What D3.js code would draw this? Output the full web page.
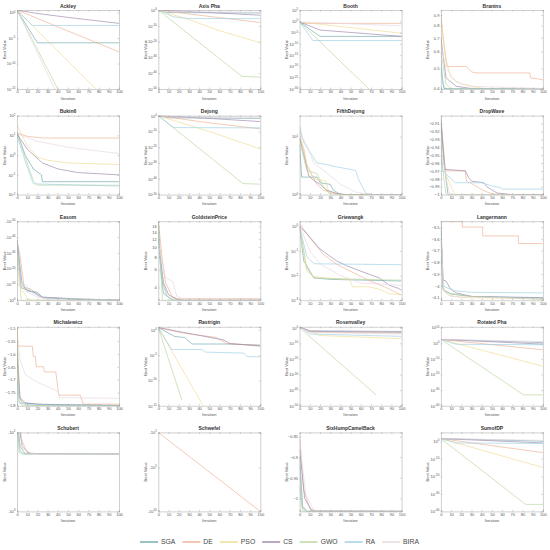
<!DOCTYPE html>
<html><head><meta charset="utf-8">
<script src="https://cdn.jsdelivr.net/npm/d3@7"></script>
<style>body{margin:0;background:#fff}svg{display:block}</style>
</head><body>
<svg id="c" width="550" height="550"></svg>
<script>
const algorithms = ["SGA","DE","PSO","CS","GWO","RA","BIRA"];
const colors = ["#6ea8ad","#eeae92","#efdc90","#9a85ac","#b8d69b","#9bcfe2","#e6d6e0"];
const iterationTicks = [0,10,20,30,40,50,60,70,80,90,100];

const ackley = {
  SGA:[[0,3.3],[20,1.2e-6],[100,1.2e-6]],
  DE:[[0,3.3],[50,2.5e-4],[100,2e-8]],
  PSO:[[0,3.3],[80,3e-16]],
  CS:[[0,3.3],[10,1.5],[20,0.7],[50,0.12],[100,0.008]],
  GWO:[[0,3.3],[40,1e-15],[42,2e-16]],
  RA:[[0,3.3],[15,3e-3],[100,3e-3]],
  BIRA:[[0,3.3],[37,1e-15],[39,2e-16]]
};
const axisPha = {
  SGA:[[0,1],[8,0.03],[100,0.015]],
  DE:[[0,1],[50,1e-4],[100,1.5e-8]],
  PSO:[[0,1],[30,1e-6],[60,1e-13],[100,2e-21]],
  CS:[[0,1],[50,0.03],[100,6e-4]],
  GWO:[[0,1],[82,1e-42],[100,3e-43]],
  RA:[[0,1],[15,5e-5],[30,5e-6],[100,4e-6]],
  BIRA:[[0,1],[10,0.1],[100,0.05]]
};
const booth = {
  SGA:[[0,0.5],[20,2e-7],[100,2e-7]],
  DE:[[0,0.5],[2,0.12],[100,0.12]],
  PSO:[[0,0.5],[100,5e-6]],
  CS:[[0,0.5],[20,1.3e-4],[100,2e-7]],
  GWO:[[0,0.5],[68,1e-30],[75,1e-33]],
  RA:[[0,0.5],[13,3e-9],[100,3e-9]],
  BIRA:[[0,0.5],[100,1e-2]]
};
const branins = {
  SGA:[[0,0.5],[3,0.4],[100,0.398]],
  DE:[[0,0.9],[3,0.65],[6,0.51],[25,0.51],[30,0.48],[35,0.475],[87,0.475],[88,0.45],[95,0.445],[100,0.44]],
  PSO:[[0,0.85],[5,0.55],[10,0.45],[20,0.42],[40,0.4],[100,0.398]],
  CS:[[0,0.7],[5,0.45],[15,0.41],[30,0.4],[100,0.398]],
  GWO:[[0,0.6],[5,0.42],[10,0.4],[100,0.398]],
  RA:[[0,0.55],[2,0.42],[5,0.398],[100,0.398]],
  BIRA:[[0,0.65],[5,0.5],[15,0.43],[30,0.41],[100,0.4]]
};
const bukin6 = {
  SGA:[[0,15],[8,1],[16,0.2],[24,0.1],[25,0.045],[100,0.045]],
  DE:[[0,13],[10,9],[26,7.3],[100,7.3]],
  PSO:[[0,34],[10,3],[20,0.8],[30,0.55],[50,0.4],[100,0.33]],
  CS:[[0,12],[10,2],[25,0.4],[40,0.2],[60,0.13],[100,0.1]],
  GWO:[[0,12],[8,0.8],[16,0.05],[20,0.03],[100,0.03]],
  RA:[[0,10],[8,0.5],[16,0.035],[100,0.027]],
  BIRA:[[0,12],[20,5],[50,2.5],[100,1.2]]
};
const dejong = {
  SGA:[[0,1],[10,0.05],[100,0.02]],
  DE:[[0,1],[50,3e-5],[100,5e-9]],
  PSO:[[0,1],[50,1e-10],[100,1e-21]],
  CS:[[0,1],[50,0.02],[100,2e-4]],
  GWO:[[0,1],[83,1e-43],[100,4e-44]],
  RA:[[0,1],[15,3e-8],[100,2e-8]],
  BIRA:[[0,1],[10,0.2],[100,0.1]]
};
const fifthDejong = {
  SGA:[[0,7.2],[2,2.0],[17,2.0],[20,1.6],[30,1.5],[33,1.2],[40,1.0],[100,0.999]],
  DE:[[0,9.4],[4,6.2],[7,3.3],[12,2.2],[17,1.5],[23,1.2],[33,1.05],[39,1.0],[100,0.999]],
  PSO:[[0,13],[7,3.3],[13,1.9],[26,1.7],[28,1.15],[41,1.0],[100,0.999]],
  CS:[[0,9.4],[4,4.9],[9,2.1],[13,1.8],[20,1.5],[26,1.2],[36,1.05],[45,1.0],[100,0.999]],
  GWO:[[0,8.5],[7,2.6],[17,2.3],[23,1.4],[29,1.05],[32,1.0],[100,0.999]],
  RA:[[0,15],[4,8],[10,5.5],[17,3.5],[30,3.2],[36,3.0],[46,2.8],[55,2.6],[58,1.8],[65,1.05],[72,1.0],[100,0.999]],
  BIRA:[[0,12],[7,7],[14,3.5],[25,2.5],[40,1.5],[55,1.1],[70,1.0],[100,0.999]]
};
const dropWave = {
  SGA:[[0,-0.905],[3,-0.96],[7,-1],[100,-1]],
  DE:[[0,-0.901],[4,-0.965],[5,-0.97],[24,-0.97],[25,-0.983],[30,-0.986],[42,-0.995],[50,-0.999],[60,-1],[100,-1]],
  PSO:[[0,-0.92],[5,-0.975],[10,-0.99],[14,-1],[100,-1]],
  CS:[[0,-0.91],[4,-0.968],[24,-0.97],[27,-0.978],[30,-0.983],[42,-0.985],[45,-0.99],[55,-0.998],[70,-1],[100,-1]],
  GWO:[[0,-0.95],[5,-1],[100,-1]],
  RA:[[0,-0.93],[2,-0.97],[14,-0.985],[40,-0.985],[45,-0.987],[50,-0.989],[58,-0.991],[60,-0.993],[100,-0.993]],
  BIRA:[[0,-0.94],[6,-0.985],[9,-1],[100,-1]]
};
const easom = {
  SGA:[[0,-1e-38],[4,-1e-8],[12,-1e-6],[20,-1e-5],[25,-0.02],[50,-0.2],[90,-0.9],[100,-1]],
  DE:[[0,-1e-38],[3,-1e-28],[7,-1e-8],[14,-1e-7],[20,-1e-3],[25,-0.02],[45,-0.05],[100,-0.98]],
  PSO:[[0,-1e-30],[2,-1e-10],[10,-0.1],[15,-1],[100,-1]],
  CS:[[0,-1e-38],[5,-1e-10],[10,-1e-6],[17,-1e-5],[25,-0.01],[60,-0.3],[100,-1]],
  GWO:[[0,-1e-38],[4,-1],[100,-1]],
  RA:[[0,-1e-38],[4,-1e-12],[15,-1e-5],[25,-0.03],[100,-1]],
  BIRA:[[0,-1e-24],[3,-1e-12],[8,-1e-6],[14,-1e-4],[20,-0.01],[30,-0.2],[40,-1],[100,-1]]
};
const goldsteinPrice = {
  SGA:[[0,18],[2,7],[5,3.5],[14,3.0],[100,3.0]],
  DE:[[0,18],[4,7.5],[7,4.5],[14,3.2],[20,3.1],[100,3.1]],
  PSO:[[0,16],[3,6],[6,4],[10,3.2],[20,3.0],[100,3.0]],
  CS:[[0,12],[5,4.5],[10,3.4],[20,3.0],[100,3.0]],
  GWO:[[0,18],[4,3.0],[100,3.0]],
  RA:[[0,14],[3,5],[8,3.3],[15,3.0],[100,3.0]],
  BIRA:[[0,11],[7,5],[14,4.6],[18,3.3],[25,3.05],[100,3.05]]
};
const griewangk = {
  SGA:[[0,1],[4,0.04],[14,0.008],[30,0.007],[100,0.006]],
  DE:[[0,1.3],[10,0.34],[23,0.074],[36,0.029],[55,0.0117],[68,0.0063],[84,0.0034],[94,0.0021],[100,0.0016]],
  PSO:[[0,0.9],[7,0.015],[14,0.009],[26,0.008],[49,0.007],[52,0.0035],[68,0.0035],[78,0.0028],[88,0.0018],[100,0.0017]],
  CS:[[0,1],[7,0.5],[20,0.12],[36,0.04],[46,0.025],[60,0.015],[78,0.008],[88,0.004],[97,0.003],[100,0.0025]],
  GWO:[[0,1],[7,0.02],[14,0.008],[30,0.0075],[60,0.007],[100,0.0065]],
  RA:[[0,1],[7,0.06],[14,0.03],[100,0.0275]],
  BIRA:[[0,1.1],[10,0.1],[20,0.03],[40,0.01],[60,0.005],[100,0.004]]
};
const langermann = {
  SGA:[[0,-3.6],[2,-4.03],[10,-4.07],[30,-4.09],[100,-4.1]],
  DE:[[0,-3.452],[21,-3.452],[21,-3.5],[41,-3.5],[41,-3.575],[76,-3.575],[76,-3.64],[100,-3.64]],
  PSO:[[0,-3.55],[3,-4.04],[8,-4.08],[20,-4.1],[100,-4.11]],
  CS:[[0,-3.46],[2,-3.95],[5,-3.96],[9,-4.02],[15,-4.06],[30,-4.09],[100,-4.105]],
  GWO:[[0,-3.5],[2,-4.03],[6,-4.06],[30,-4.09],[100,-4.115]],
  RA:[[0,-3.5],[2,-4.0],[12,-4.04],[30,-4.055],[100,-4.06]],
  BIRA:[[0,-3.6],[3,-4.05],[10,-4.09],[100,-4.11]]
};
const michalewicz = {
  SGA:[[0,-1.55],[2,-1.76],[5,-1.79],[20,-1.795],[100,-1.801]],
  DE:[[0,-1.5],[1,-1.57],[15,-1.57],[16,-1.61],[18,-1.61],[19,-1.65],[26,-1.65],[27,-1.67],[38,-1.67],[41,-1.76],[62,-1.76],[65,-1.795],[100,-1.795]],
  PSO:[[0,-1.5],[1,-1.6],[3,-1.78],[10,-1.8],[100,-1.801]],
  CS:[[0,-1.6],[3,-1.77],[8,-1.79],[20,-1.795],[30,-1.797],[100,-1.8]],
  GWO:[[0,-1.55],[2,-1.78],[5,-1.8],[100,-1.801]],
  RA:[[0,-1.7],[2,-1.79],[10,-1.797],[60,-1.8],[100,-1.8]],
  BIRA:[[0,-1.53],[3,-1.62],[8,-1.68],[20,-1.71],[40,-1.745],[42,-1.77],[100,-1.772]]
};
const rastrigin = {
  SGA:[[0,2.8],[16,0.05],[26,0.03],[33,1.6e-3],[67,1.6e-3],[100,1e-3]],
  DE:[[0,2.8],[23,0.25],[57,0.03],[67,2e-3],[100,8e-4]],
  PSO:[[0,2.8],[44,1e-15]],
  CS:[[0,2.8],[64,0.01],[70,2e-3],[100,6e-4]],
  GWO:[[0,2.8],[23,1.5e-14]],
  RA:[[0,2.8],[13,1.3e-4],[43,1.3e-4],[46,4e-5],[84,2.5e-5],[87,5e-6],[100,5e-6]],
  BIRA:[]
};
const rosenvalley = {
  SGA:[[0,3],[10,5e-3],[100,1e-3]],
  DE:[[0,3],[10,2e-3],[100,3e-4]],
  PSO:[[0,3],[20,1e-5],[100,1e-7]],
  CS:[[0,3],[10,1e-2],[100,4e-3]],
  GWO:[[0,1],[75,1e-43]],
  RA:[[0,3],[10,1e-4],[100,3e-6]],
  BIRA:[[0,3],[10,1e-3],[100,1e-4]]
};
const rotatedPha = {
  SGA:[[0,250],[100,2.5]],
  DE:[[0,250],[100,6e-5]],
  PSO:[[0,250],[100,2e-15]],
  CS:[[0,250],[100,0.25]],
  GWO:[[0,250],[81,1e-33],[100,1e-33]],
  RA:[[0,250],[15,0.2],[100,0.1]],
  BIRA:[[0,250],[100,10]]
};
const schubert = {
  SGA:[[0,-60],[3,-150],[8,-186],[100,-186.7]],
  DE:[[0,-40],[4,-120],[10,-180],[20,-186.7],[100,-186.7]],
  PSO:[[0,-80],[3,-170],[6,-186.7],[100,-186.7]],
  CS:[[0,-50],[5,-150],[12,-185],[100,-186.7]],
  GWO:[[0,-70],[2,-180],[5,-186.7],[100,-186.7]],
  RA:[[0,-90],[3,-175],[7,-186.7],[100,-186.7]],
  BIRA:[[0,-45],[6,-160],[15,-186.7],[100,-186.7]]
};
const schwefel = {
  SGA:[],
  DE:[[0,-1e1],[100,-1e10]],
  PSO:[],
  CS:[],
  GWO:[],
  RA:[],
  BIRA:[]
};
const sixHump = {
  SGA:[[0,-0.9],[3,-1.02],[8,-1.0316],[100,-1.0316]],
  DE:[[0,-0.85],[4,-0.98],[10,-1.025],[18,-1.0316],[100,-1.0316]],
  PSO:[[0,-0.95],[2,-1.02],[6,-1.0316],[100,-1.0316]],
  CS:[[0,-0.88],[5,-1.0],[12,-1.03],[100,-1.0316]],
  GWO:[[0,-0.97],[3,-1.0316],[100,-1.0316]],
  RA:[[0,-0.92],[3,-1.025],[7,-1.0316],[100,-1.0316]],
  BIRA:[[0,-0.86],[6,-0.99],[14,-1.03],[100,-1.0316]]
};
const sumofDP = {
  SGA:[[0,30],[100,1]],
  DE:[[0,30],[100,3e-7]],
  PSO:[[0,30],[100,1e-15]],
  CS:[[0,30],[100,0.1]],
  GWO:[[0,30],[83,1e-36],[100,1e-36]],
  RA:[[0,30],[15,0.1],[100,0.05]],
  BIRA:[[0,30],[100,3]]
};

const panels = [
  {title:"Ackley", data:ackley, scale:"log", domain:[1e-15,3.4], ticks:[1,1e-5,1e-10,1e-15], fmt:"pow"},
  {title:"Axis Pha", data:axisPha, scale:"log", domain:[1e-50,1.2], ticks:[1,1e-10,1e-20,1e-30,1e-40,1e-50], fmt:"pow"},
  {title:"Booth", data:booth, scale:"log", domain:[1e-30,1e5], ticks:[1e5,1,1e-5,1e-10,1e-15,1e-20,1e-25,1e-30], fmt:"pow"},
  {title:"Branins", data:branins, scale:"log", domain:[0.3979,0.95], ticks:[0.4,0.5,0.6,0.7,0.8,0.9], fmt:"num"},
  {title:"Bukin6", data:bukin6, scale:"log", domain:[1e-2,1e2], ticks:[1e2,1e1,1,1e-1,1e-2], fmt:"pow"},
  {title:"Dejong", data:dejong, scale:"log", domain:[1e-50,1.2], ticks:[1,1e-10,1e-20,1e-30,1e-40,1e-50], fmt:"pow"},
  {title:"FifthDejong", data:fifthDejong, scale:"log", domain:[0.998,23], ticks:[1,10], fmt:"pow"},
  {title:"DropWave", data:dropWave, scale:"linear", domain:[-1,-0.9], ticks:[-0.91,-0.92,-0.93,-0.94,-0.95,-0.96,-0.97,-0.98,-0.99,-1], fmt:"num"},
  {title:"Easom", data:easom, scale:"neglog", domain:[1e-50,1], ticks:[-1e-50,-1e-40,-1e-30,-1e-20,-1e-10,-1], fmt:"negpow"},
  {title:"GoldsteinPrice", data:goldsteinPrice, scale:"log", domain:[3,18], ticks:[4,6,8,10,12,14,16], fmt:"num"},
  {title:"Griewangk", data:griewangk, scale:"log", domain:[1e-3,1.6], ticks:[1,1e-1,1e-2,1e-3], fmt:"pow"},
  {title:"Langermann", data:langermann, scale:"linear", domain:[-4.122,-3.45], ticks:[-3.5,-3.6,-3.7,-3.8,-3.9,-4,-4.1], fmt:"num"},
  {title:"Michalewicz", data:michalewicz, scale:"linear", domain:[-1.8013,-1.495], ticks:[-1.5,-1.55,-1.6,-1.65,-1.7,-1.75,-1.8], fmt:"num"},
  {title:"Rastrigin", data:rastrigin, scale:"log", domain:[1e-15,4], ticks:[1,1e-5,1e-10,1e-15], fmt:"pow"},
  {title:"Rosenvalley", data:rosenvalley, scale:"log", domain:[1e-50,4], ticks:[1,1e-10,1e-20,1e-30,1e-40,1e-50], fmt:"pow"},
  {title:"Rotated Pha", data:rotatedPha, scale:"log", domain:[1e-40,3e10], ticks:[1e10,1,1e-10,1e-20,1e-30,1e-40], fmt:"pow"},
  {title:"Schubert", data:schubert, scale:"neglog", domain:[100,1000], ticks:[-100,-1000], fmt:"negpow"},
  {title:"Schwefel", data:schwefel, scale:"neglog", domain:[10,1e10], ticks:[-10,-1e5,-1e10], fmt:"negpow"},
  {title:"SixHumpCamelBack", data:sixHump, scale:"linear", domain:[-1.0316,-0.84], ticks:[-0.85,-0.9,-0.95,-1], fmt:"num"},
  {title:"SumofDP", data:sumofDP, scale:"log", domain:[1e-40,1e5], ticks:[1,1e-10,1e-20,1e-30,1e-40], fmt:"pow"}
];

const svg = d3.select("#c");
const W = 102, H = 79;
const axisColor = "#a0a0a0";
const font = "'Liberation Sans', Arial, sans-serif";

function labelTick(sel, d, fmt) {
  sel.text(null);
  if (fmt === "num") { sel.text(d3.format("~g")(d)); return; }
  const k = Math.round(Math.log10(Math.abs(d)));
  sel.append("tspan").text((fmt === "negpow" ? "-" : "") + "10");
  sel.append("tspan").attr("dy", -1.8).attr("font-size", 3).text(k);
}

panels.forEach((p, i) => {
  const c = i % 4, r = Math.floor(i / 4);
  const x0 = 17 + c * 141.3, y0 = 10 + r * 105.6;
  const g = svg.append("g").attr("transform", `translate(${x0},${y0})`);
  const x = d3.scaleLinear().domain([0, 100]).range([0, W]);
  let y;
  if (p.scale === "log") y = d3.scaleLog().domain(p.domain).range([H, 0]);
  else if (p.scale === "neglog") y = d3.scaleLog().domain(p.domain).range([0, H]);
  else y = d3.scaleLinear().domain(p.domain).range([H, 0]);
  const yv = p.scale === "neglog" ? v => y(-v) : v => y(v);

  g.append("rect").attr("width", W).attr("height", H).attr("fill", "#fff");
  const cid = "clip" + i;
  g.append("clipPath").attr("id", cid).append("rect").attr("width", W).attr("height", H);
  const lines = g.append("g").attr("clip-path", `url(#${cid})`);
  const line = d3.line().x(d => x(d[0])).y(d => yv(d[1]));
  algorithms.forEach((a, k) => {
    const pts = p.data[a];
    if (!pts || !pts.length) return;
    lines.append("path").attr("d", line(pts)).attr("fill", "none")
      .attr("stroke", colors[k]).attr("stroke-width", 0.65);
  });

  const xa = g.append("g").attr("transform", `translate(0,${H})`)
    .call(d3.axisBottom(x).tickValues(iterationTicks).tickSize(-1.5).tickPadding(1.5));
  const xt = g.append("g").call(d3.axisTop(x).tickValues(iterationTicks).tickSize(-1.5).tickFormat(""));
  const yTickVals = p.ticks.map(t => p.scale === "neglog" ? -t : t);
  const ya = g.append("g").call(d3.axisLeft(y).tickValues(yTickVals).tickSize(-1.5).tickPadding(1.5));
  ya.selectAll(".tick text").each(function(d) {
    labelTick(d3.select(this), p.scale === "neglog" ? -d : d, p.fmt);
  });
  const yr = g.append("g").attr("transform", `translate(${W},0)`)
    .call(d3.axisRight(y).tickValues(yTickVals).tickSize(-1.5).tickFormat(""));
  [xa, xt, ya, yr].forEach(a => {
    a.selectAll("path.domain").attr("stroke", axisColor).attr("stroke-width", 0.5);
    a.selectAll(".tick line").attr("stroke", axisColor).attr("stroke-width", 0.5);
    a.selectAll("text").attr("font-size", 4).attr("font-family", font).attr("fill", "#555");
  });

  g.append("text").attr("x", W / 2).attr("y", -2.5).attr("text-anchor", "middle")
    .attr("font-family", font).attr("font-size", 5).attr("font-weight", "bold").attr("fill", "#333")
    .text(p.title);
  g.append("text").attr("x", W / 2).attr("y", H + 10.5).attr("text-anchor", "middle")
    .attr("font-family", font).attr("font-size", 4).attr("fill", "#555").text("Iteration");
  g.append("text").attr("transform", `translate(-11.5,${H / 2}) rotate(-90)`).attr("text-anchor", "middle")
    .attr("font-family", font).attr("font-size", 4).attr("fill", "#555").text("Best Value");
});

// legend
const legend = svg.append("g").attr("transform", "translate(0,542)");
let lx = 140;
algorithms.forEach((a, k) => {
  legend.append("line").attr("x1", lx).attr("x2", lx + 18).attr("y1", 0).attr("y2", 0)
    .attr("stroke", colors[k]).attr("stroke-width", 1.4);
  const t = legend.append("text").attr("x", lx + 21).attr("y", 2.4).attr("font-family", font)
    .attr("font-size", 6.8).attr("fill", "#444").text(a);
  lx += 21 + t.node().getComputedTextLength() + 7;
});
</script>
</body></html>
